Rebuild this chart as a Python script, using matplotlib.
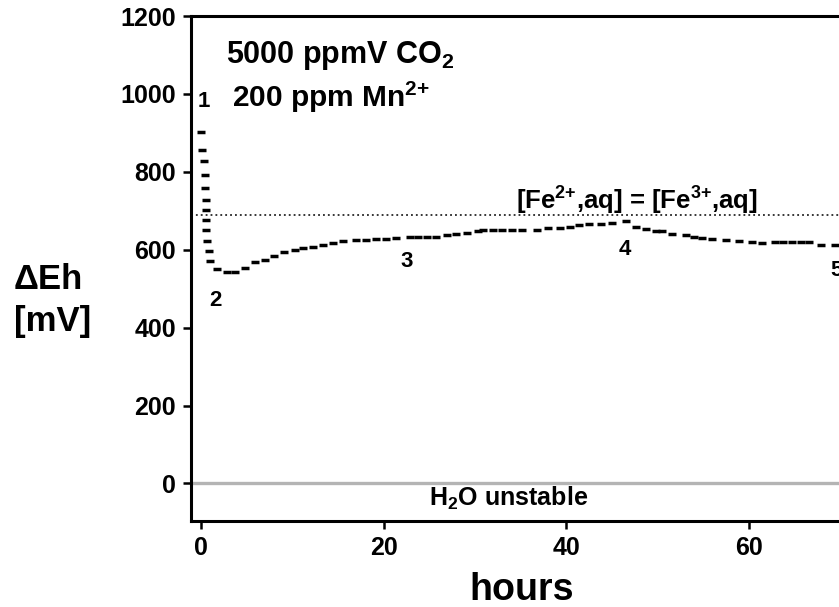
import matplotlib
matplotlib.use('Agg')
import matplotlib.pyplot as plt

# data (hours vs. Delta Eh in mV)
hours = [0.0, 0.15, 0.28, 0.4, 0.47, 0.5, 0.52, 0.55, 0.58, 0.6, 0.83, 1.0,
         1.7, 2.8, 3.7, 4.8, 5.9, 7.0, 8.0, 9.1, 10.3, 11.2, 12.3, 13.4,
         14.5, 15.6, 17.0, 18.1, 19.2, 20.3, 21.3, 22.9, 23.8, 24.7, 25.7,
         26.9, 27.9, 29.1, 30.3, 30.9, 32.0, 33.0, 34.1, 35.2, 36.8, 38.0,
         39.3, 40.4, 41.4, 42.5, 43.8, 45.0, 46.6, 47.6, 48.7, 49.8, 50.5,
         51.6, 53.1, 54.0, 54.9, 56.0, 57.5, 58.9, 60.4, 61.5, 62.9, 63.8,
         64.7, 65.7, 66.6, 67.9, 69.4]
eh = [903, 855, 827, 792, 758, 728, 703, 677, 651, 623, 597, 571,
      550, 543, 543, 552, 568, 573, 584, 594, 600, 604, 607, 612,
      618, 623, 624, 625, 627, 627, 629, 632, 632, 632, 634,
      637, 640, 643, 647, 650, 650, 651, 651, 651, 651, 655,
      657, 659, 664, 666, 666, 670, 673, 659, 653, 649, 649,
      640, 637, 634, 631, 627, 624, 623, 621, 618, 620, 620,
      620, 620, 620, 613, 613]

fe_line = 690
point_labels = ['1', '2', '3', '4', '5']
label_x = [0.3, 1.6, 22.5, 46.4, 69.6]
label_y = [980, 470, 570, 600, 548]

plt.rcParams['font.family'] = ['Liberation Sans', 'DejaVu Sans']
plt.rcParams['font.weight'] = 'bold'
plt.rcParams['axes.labelweight'] = 'bold'
plt.rcParams['mathtext.fontset'] = 'custom'
plt.rcParams['mathtext.rm'] = 'Liberation Sans:bold'
plt.rcParams['mathtext.bf'] = 'Liberation Sans:bold'

fig = plt.figure(figsize=(8.39, 6.07), dpi=100)
ax = fig.add_axes([0.2277, 0.1425, 0.828, 0.831])

ax.axhline(0, color='#b4b4b4', lw=2.4, zorder=1)
ax.axhline(fe_line, color='black', lw=1.1, ls=(0, (1.2, 2.0)), zorder=1)

ax.plot(hours, eh, ls='none', marker='_', ms=6.3, mew=2.5, color='black',
        zorder=3)

for s, x, y in zip(point_labels, label_x, label_y):
    ax.text(x, y, s, fontsize=16, ha='center', va='center')

ax.text(15.2, 1100, '5000 ppmV CO$_2$', fontsize=22, ha='center', va='center')
ax.text(14.2, 992, '200 ppm Mn$^{2{+}}$', fontsize=21.5, ha='center',
        va='center')
ax.text(47.8, 730, '[Fe$^{2{+}}$,aq] = [Fe$^{3{+}}$,aq]', fontsize=18.5,
        ha='center', va='center')
ax.text(33.7, -37, 'H$_2$O unstable', fontsize=18, ha='center', va='center')

ax.set_xlim(-1.1, 75)
ax.set_ylim(-95, 1200)
ax.set_xticks([0, 20, 40, 60])
ax.set_yticks(range(0, 1201, 200))

for side in ['top', 'left', 'bottom', 'right']:
    ax.spines[side].set_linewidth(2.2)

ax.tick_params(direction='out', length=6, width=1.8, labelsize=18, pad=5)

ax.set_ylabel('\u0394Eh\n[mV]', fontsize=25, rotation=0, ha='left',
              va='center', linespacing=1.35)
ax.yaxis.set_label_coords(-0.2547, 0.437)
ax.set_xlabel('hours', fontsize=27, va='center')
ax.xaxis.set_label_coords(0.476, -0.138)

fig.savefig('out.png', dpi=100)
